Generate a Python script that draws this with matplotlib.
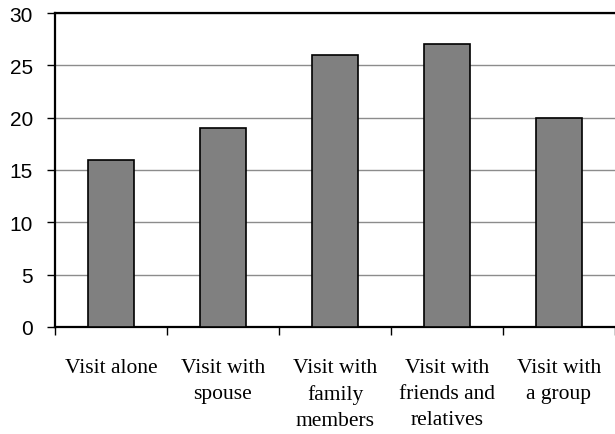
import matplotlib
matplotlib.use("Agg")
import matplotlib.pyplot as plt
import numpy as np

categories = ["Visit alone", "Visit with\nspouse", "Visit with\nfamily\nmembers",
              "Visit with\nfriends and\nrelatives", "Visit with\na group"]
values = [16, 19, 26, 27, 20]
yticks = [0, 5, 10, 15, 20, 25, 30]

fig = plt.figure(figsize=(6.15, 4.35), dpi=100)
ax = fig.add_axes([55/615, 1-328/435, 1-55/615, (328-14)/435])

x = np.arange(len(categories))
ax.bar(x, values, width=0.41, color="#808080", edgecolor="black", linewidth=1.2, zorder=3)

ax.set_xlim(-0.5, len(categories) - 0.5)
ax.set_ylim(0, 30)
ax.set_yticks(yticks)
ax.set_yticklabels([str(v) for v in yticks], fontfamily="Liberation Sans", fontsize=15)
ax.tick_params(axis="y", length=6, width=1, pad=10)
ax.yaxis.grid(True, color="#8c8c8c", linewidth=1.0, zorder=0)

ax.set_xticks(np.arange(len(categories) + 1) - 0.5)
ax.set_xticklabels([])
ax.set_xticks(x, minor=True)
ax.set_xticklabels(categories, minor=True, fontfamily="Liberation Serif", fontsize=15.5,
                   linespacing=1.5, va="top")
ax.tick_params(axis="x", which="major", length=6, width=1, direction="out")
ax.tick_params(axis="x", which="minor", length=0, pad=22)

for s in ["left", "bottom", "top"]:
    ax.spines[s].set_linewidth(1.6)
    ax.spines[s].set_color("black")
ax.spines["right"].set_visible(False)

fig.savefig("out.png", dpi=100)
